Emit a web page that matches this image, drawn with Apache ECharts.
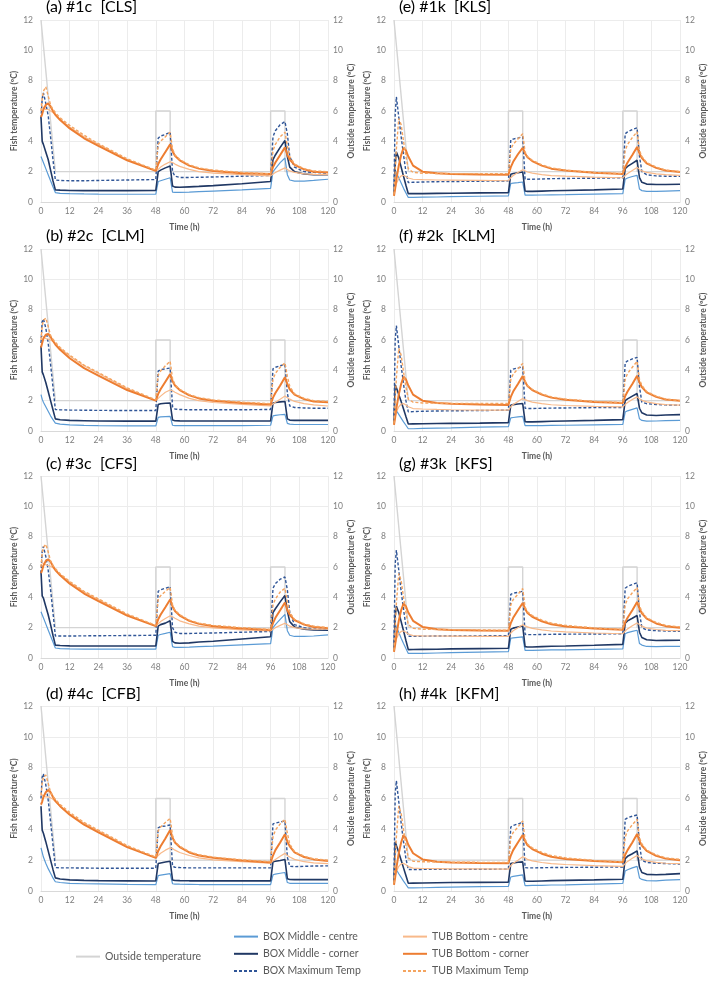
<!DOCTYPE html>
<html><head><meta charset="utf-8">
<script src="https://cdn.jsdelivr.net/npm/echarts@6/dist/echarts.min.js"></script>
<style>html,body{margin:0;padding:0;background:#fff}#c{width:709px;height:989px}</style>
</head><body><div id="c"></div>
<script>
// ---------- DATA ----------
const hours = [0, 0.5, 1, 2, 3, 4, 5, 6, 8, 12, 18, 24, 36, 48, 49, 50, 52, 54, 55, 56, 58, 62, 66, 72, 84, 96, 97, 98, 100, 102, 103, 104, 106, 110, 114, 120];
const outsideHours = [0, 6, 48, 48, 54, 54, 96, 96, 102, 102, 120];
const outsideTemp = [12, 2, 2, 6, 6, 2, 2, 6, 6, 2, 2];
const xTicks = [0, 12, 24, 36, 48, 60, 72, 84, 96, 108, 120];
const yTicks = [0, 2, 4, 6, 8, 10, 12];
const panelTitles = ['(a) #1c  [CLS]', '(b) #2c  [CLM]', '(c) #3c  [CFS]', '(d) #4c  [CFB]',
                     '(e) #1k  [KLS]', '(f) #2k  [KLM]', '(g) #3k  [KFS]', '(h) #4k  [KFM]'];
const seriesNames = ['Outside temperature', 'BOX Middle - centre', 'BOX Middle - corner', 'BOX Maximum Temp',
                     'TUB Bottom - centre', 'TUB Bottom - corner', 'TUB Maximum Temp'];

// (a) #1c
const a_boxCentre = [3.0, 2.8, 2.6, 2.2, 1.8, 1.4, 1.0, 0.62, 0.57, 0.55, 0.53, 0.52, 0.51, 0.52, 1.35, 1.4, 1.5, 1.6, 0.65, 0.63, 0.63, 0.65, 0.68, 0.72, 0.8, 0.9, 2.0, 2.2, 2.6, 2.9, 1.8, 1.45, 1.38, 1.38, 1.42, 1.5];
const a_boxCorner = [5.6, 4.0, 3.8, 3.3, 2.8, 2.1, 1.4, 0.8, 0.78, 0.76, 0.75, 0.75, 0.75, 0.76, 2.0, 2.1, 2.25, 2.38, 1.05, 0.98, 0.97, 1.0, 1.03, 1.08, 1.2, 1.35, 2.8, 3.1, 3.6, 4.05, 3.0, 2.3, 2.0, 1.85, 1.8, 1.8];
const a_boxMax = [5.5, 6.8, 7.2, 6.5, 5.7, 4.3, 2.8, 1.45, 1.42, 1.4, 1.4, 1.42, 1.45, 1.48, 4.2, 4.35, 4.45, 4.6, 2.0, 1.7, 1.62, 1.62, 1.63, 1.65, 1.7, 1.75, 4.3, 4.7, 5.1, 5.3, 4.5, 3.0, 2.3, 2.0, 1.95, 1.9];
const a_tubCentre = [6.5, 6.3, 6.2, 6.1, 6.1, 6.0, 5.9, 5.75, 5.45, 4.95, 4.3, 3.8, 2.8, 2.05, 2.15, 2.3, 2.5, 2.65, 2.6, 2.5, 2.35, 2.15, 2.0, 1.9, 1.8, 1.72, 1.85, 1.95, 2.1, 2.25, 2.15, 2.05, 1.95, 1.85, 1.82, 1.8];
const a_tubCorner = [5.6, 5.8, 6.1, 6.4, 6.5, 6.3, 6.0, 5.75, 5.4, 4.85, 4.2, 3.7, 2.75, 2.05, 2.5, 2.8, 3.3, 3.8, 3.35, 3.05, 2.75, 2.4, 2.2, 2.05, 1.9, 1.85, 2.3, 2.6, 3.1, 3.6, 3.1, 2.8, 2.45, 2.15, 2.0, 1.95];
const a_tubMax = [6.0, 6.8, 7.3, 7.6, 7.0, 6.4, 6.1, 5.9, 5.55, 5.05, 4.4, 3.85, 2.85, 2.1, 3.8, 4.0, 4.3, 4.6, 3.5, 3.1, 2.8, 2.45, 2.25, 2.1, 1.95, 1.85, 3.4, 3.8, 4.3, 4.6, 3.7, 3.0, 2.5, 2.2, 2.05, 2.0];
// (b) #2c
const b_boxCentre = [2.4, 2.1, 1.9, 1.6, 1.3, 1.0, 0.75, 0.52, 0.45, 0.4, 0.37, 0.35, 0.34, 0.34, 0.9, 0.93, 0.95, 0.97, 0.38, 0.36, 0.35, 0.35, 0.35, 0.35, 0.36, 0.38, 1.0, 1.03, 1.07, 1.1, 0.5, 0.45, 0.43, 0.43, 0.43, 0.43];
const b_boxCorner = [5.6, 3.9, 3.7, 3.2, 2.6, 2.0, 1.4, 0.8, 0.74, 0.7, 0.68, 0.66, 0.65, 0.65, 1.75, 1.8, 1.83, 1.85, 0.72, 0.68, 0.67, 0.66, 0.66, 0.66, 0.66, 0.67, 1.85, 1.88, 1.92, 1.95, 0.8, 0.72, 0.7, 0.7, 0.7, 0.7];
const b_boxMax = [5.8, 7.2, 7.4, 6.8, 5.8, 4.4, 2.9, 1.42, 1.4, 1.38, 1.37, 1.36, 1.35, 1.35, 3.95, 4.05, 4.1, 4.15, 1.6, 1.45, 1.42, 1.4, 1.4, 1.4, 1.4, 1.42, 4.1, 4.2, 4.3, 4.4, 2.5, 1.65, 1.55, 1.52, 1.5, 1.5];
const b_tubCentre = [6.4, 6.25, 6.15, 6.1, 6.05, 6.0, 5.9, 5.75, 5.45, 4.95, 4.3, 3.8, 2.8, 2.0, 2.15, 2.3, 2.55, 2.7, 2.65, 2.55, 2.4, 2.15, 2.0, 1.88, 1.75, 1.65, 1.8, 1.9, 2.1, 2.3, 2.2, 2.1, 1.95, 1.8, 1.72, 1.65];
const b_tubCorner = [5.5, 5.8, 6.1, 6.35, 6.4, 6.2, 5.95, 5.7, 5.35, 4.8, 4.15, 3.65, 2.7, 2.0, 2.45, 2.75, 3.25, 3.75, 3.3, 3.0, 2.7, 2.35, 2.15, 2.0, 1.85, 1.75, 2.2, 2.5, 3.0, 3.55, 3.1, 2.75, 2.4, 2.1, 1.95, 1.9];
const b_tubMax = [6.0, 6.9, 7.3, 7.45, 6.9, 6.3, 6.05, 5.85, 5.5, 5.0, 4.35, 3.85, 2.85, 2.05, 3.7, 3.95, 4.3, 4.6, 3.45, 3.05, 2.75, 2.4, 2.2, 2.05, 1.9, 1.8, 3.4, 3.8, 4.2, 4.5, 3.6, 2.95, 2.45, 2.15, 2.0, 1.95];
// (c) #3c
const c_boxCentre = [3.05, 2.85, 2.65, 2.25, 1.85, 1.45, 1.05, 0.66, 0.62, 0.6, 0.59, 0.58, 0.58, 0.58, 1.5, 1.55, 1.62, 1.7, 0.75, 0.7, 0.7, 0.72, 0.75, 0.78, 0.86, 0.95, 2.0, 2.2, 2.55, 2.88, 1.8, 1.5, 1.42, 1.42, 1.45, 1.52];
const c_boxCorner = [5.7, 4.1, 3.95, 3.4, 2.85, 2.2, 1.5, 0.85, 0.82, 0.8, 0.79, 0.79, 0.79, 0.8, 2.1, 2.2, 2.3, 2.45, 1.1, 1.0, 0.97, 1.0, 1.05, 1.1, 1.25, 1.4, 3.0, 3.25, 3.7, 4.12, 3.1, 2.4, 2.05, 1.9, 1.85, 1.83];
const c_boxMax = [5.6, 7.0, 7.35, 6.7, 5.8, 4.5, 3.0, 1.45, 1.45, 1.45, 1.46, 1.47, 1.48, 1.5, 4.4, 4.5, 4.6, 4.7, 2.0, 1.7, 1.62, 1.62, 1.63, 1.65, 1.7, 1.75, 4.6, 4.9, 5.2, 5.34, 4.5, 3.0, 2.2, 2.0, 1.92, 1.87];
const c_tubCentre = [6.4, 6.3, 6.2, 6.15, 6.1, 6.05, 5.95, 5.8, 5.5, 5.0, 4.35, 3.85, 2.85, 2.1, 2.25, 2.4, 2.6, 2.78, 2.72, 2.62, 2.45, 2.25, 2.1, 1.98, 1.85, 1.78, 1.9, 2.0, 2.15, 2.29, 2.2, 2.1, 2.0, 1.92, 1.9, 1.9];
const c_tubCorner = [5.6, 5.8, 6.1, 6.4, 6.5, 6.35, 6.05, 5.8, 5.45, 4.9, 4.25, 3.75, 2.8, 2.1, 2.55, 2.85, 3.35, 3.86, 3.4, 3.1, 2.8, 2.45, 2.25, 2.1, 1.95, 1.85, 2.3, 2.65, 3.15, 3.66, 3.15, 2.85, 2.5, 2.2, 2.05, 1.97];
const c_tubMax = [6.0, 6.9, 7.3, 7.5, 7.0, 6.4, 6.1, 5.9, 5.55, 5.05, 4.4, 3.9, 2.9, 2.15, 3.9, 4.1, 4.4, 4.65, 3.5, 3.15, 2.85, 2.5, 2.3, 2.15, 2.0, 1.88, 3.5, 3.9, 4.35, 4.6, 3.7, 3.0, 2.55, 2.25, 2.1, 2.0];
// (d) #4c
const d_boxCentre = [2.8, 2.5, 2.2, 1.8, 1.45, 1.15, 0.85, 0.6, 0.55, 0.5, 0.47, 0.46, 0.43, 0.41, 1.0, 1.03, 1.08, 1.13, 0.47, 0.45, 0.44, 0.43, 0.42, 0.42, 0.41, 0.41, 1.05, 1.1, 1.15, 1.2, 0.55, 0.5, 0.5, 0.5, 0.5, 0.5];
const d_boxCorner = [5.5, 3.95, 3.75, 3.2, 2.6, 2.0, 1.4, 0.85, 0.78, 0.72, 0.69, 0.67, 0.66, 0.65, 1.78, 1.82, 1.88, 1.93, 0.72, 0.68, 0.67, 0.66, 0.66, 0.66, 0.66, 0.66, 1.9, 1.93, 1.98, 2.04, 0.8, 0.75, 0.74, 0.74, 0.74, 0.74];
const d_boxMax = [6.0, 7.4, 7.6, 6.9, 5.9, 4.5, 3.0, 1.52, 1.5, 1.5, 1.49, 1.48, 1.48, 1.48, 4.1, 4.18, 4.22, 4.28, 1.6, 1.54, 1.52, 1.5, 1.5, 1.5, 1.5, 1.5, 4.35, 4.4, 4.48, 4.54, 2.2, 1.6, 1.58, 1.6, 1.62, 1.63];
const d_tubCentre = [6.3, 6.2, 6.15, 6.1, 6.1, 6.05, 5.95, 5.8, 5.5, 5.0, 4.4, 3.9, 2.9, 2.15, 2.3, 2.45, 2.65, 2.8, 2.75, 2.65, 2.5, 2.3, 2.15, 2.02, 1.9, 1.8, 1.95, 2.05, 2.25, 2.44, 2.3, 2.2, 2.05, 1.9, 1.82, 1.78];
const d_tubCorner = [5.6, 5.8, 6.1, 6.4, 6.55, 6.4, 6.1, 5.85, 5.5, 4.95, 4.3, 3.8, 2.85, 2.15, 2.6, 2.9, 3.4, 3.95, 3.45, 3.15, 2.85, 2.5, 2.3, 2.15, 1.98, 1.85, 2.3, 2.65, 3.15, 3.68, 3.2, 2.9, 2.5, 2.2, 2.05, 1.95];
const d_tubMax = [6.2, 7.0, 7.4, 7.52, 7.0, 6.4, 6.15, 5.95, 5.6, 5.1, 4.45, 3.95, 2.95, 2.2, 3.9, 4.15, 4.45, 4.71, 3.6, 3.2, 2.9, 2.55, 2.35, 2.2, 2.02, 1.9, 3.5, 3.95, 4.35, 4.65, 3.75, 3.05, 2.55, 2.25, 2.08, 2.0];
// (e) #1k
const e_boxCentre = [1.6, 2.1, 1.9, 1.6, 1.25, 0.9, 0.6, 0.3, 0.3, 0.32, 0.33, 0.35, 0.38, 0.4, 1.22, 1.25, 1.28, 1.32, 0.45, 0.45, 0.45, 0.46, 0.47, 0.48, 0.52, 0.55, 1.5, 1.58, 1.68, 1.76, 0.85, 0.75, 0.7, 0.7, 0.72, 0.75];
const e_boxCorner = [0.5, 2.5, 3.3, 2.9, 2.3, 1.7, 1.1, 0.55, 0.55, 0.55, 0.57, 0.58, 0.6, 0.62, 1.83, 1.88, 1.93, 1.98, 0.72, 0.7, 0.7, 0.72, 0.74, 0.76, 0.8, 0.86, 2.2, 2.35, 2.55, 2.75, 1.6, 1.3, 1.18, 1.15, 1.15, 1.17];
const e_boxMax = [1.0, 5.8, 6.94, 5.6, 4.3, 3.1, 2.0, 1.28, 1.3, 1.32, 1.34, 1.35, 1.37, 1.39, 4.1, 4.15, 4.22, 4.3, 1.5, 1.5, 1.5, 1.52, 1.54, 1.55, 1.57, 1.6, 4.5, 4.62, 4.78, 4.89, 3.0, 2.0, 1.8, 1.72, 1.7, 1.7];
const e_tubCentre = [0.5, 0.9, 1.2, 1.55, 1.72, 1.76, 1.68, 1.58, 1.5, 1.47, 1.45, 1.44, 1.42, 1.4, 1.6, 1.75, 1.95, 2.13, 2.05, 1.98, 1.9, 1.8, 1.74, 1.7, 1.64, 1.6, 1.75, 1.88, 2.08, 2.27, 2.15, 2.05, 1.95, 1.85, 1.8, 1.75];
const e_tubCorner = [0.4, 0.9, 1.5, 2.4, 3.1, 3.57, 3.4, 3.0, 2.4, 2.0, 1.9, 1.85, 1.82, 1.8, 2.3, 2.65, 3.15, 3.57, 3.2, 2.95, 2.7, 2.4, 2.2, 2.08, 1.93, 1.85, 2.3, 2.6, 3.1, 3.63, 3.2, 2.9, 2.55, 2.25, 2.08, 1.98];
const e_tubMax = [0.5, 2.0, 3.5, 5.5, 5.1, 4.0, 3.0, 2.2, 1.95, 1.9, 1.88, 1.87, 1.87, 1.87, 3.5, 3.8, 4.15, 4.5, 3.3, 3.0, 2.75, 2.45, 2.25, 2.1, 1.95, 1.87, 3.4, 3.8, 4.25, 4.63, 3.4, 3.0, 2.6, 2.3, 2.1, 2.0];
// (f) #2k
const f_boxCentre = [1.1, 1.5, 1.35, 1.1, 0.85, 0.6, 0.38, 0.15, 0.15, 0.17, 0.19, 0.2, 0.25, 0.29, 0.86, 0.89, 0.93, 0.97, 0.35, 0.35, 0.35, 0.36, 0.37, 0.38, 0.41, 0.44, 1.25, 1.33, 1.43, 1.52, 0.8, 0.7, 0.65, 0.66, 0.68, 0.7];
const f_boxCorner = [0.5, 3.05, 2.85, 2.4, 1.95, 1.45, 0.95, 0.46, 0.47, 0.48, 0.49, 0.5, 0.52, 0.55, 1.7, 1.74, 1.78, 1.81, 0.62, 0.6, 0.6, 0.62, 0.64, 0.66, 0.7, 0.75, 2.0, 2.12, 2.3, 2.47, 1.5, 1.2, 1.05, 1.02, 1.05, 1.08];
const f_boxMax = [1.0, 6.0, 6.95, 5.6, 4.3, 3.1, 2.0, 1.26, 1.28, 1.3, 1.32, 1.33, 1.35, 1.37, 4.0, 4.08, 4.16, 4.24, 1.5, 1.48, 1.48, 1.5, 1.51, 1.52, 1.54, 1.55, 4.5, 4.62, 4.75, 4.86, 2.9, 1.9, 1.8, 1.75, 1.72, 1.7];
const f_tubCentre = [0.5, 0.95, 1.25, 1.6, 1.78, 1.81, 1.72, 1.6, 1.48, 1.45, 1.42, 1.4, 1.38, 1.37, 1.6, 1.75, 1.95, 2.14, 2.07, 2.0, 1.9, 1.8, 1.73, 1.68, 1.62, 1.59, 1.75, 1.88, 2.08, 2.25, 2.12, 2.02, 1.92, 1.8, 1.74, 1.7];
const f_tubCorner = [0.4, 0.9, 1.5, 2.4, 3.1, 3.58, 3.4, 3.0, 2.4, 2.0, 1.85, 1.8, 1.75, 1.72, 2.25, 2.6, 3.1, 3.62, 3.25, 2.97, 2.7, 2.4, 2.2, 2.06, 1.92, 1.85, 2.3, 2.6, 3.1, 3.64, 3.2, 2.9, 2.55, 2.25, 2.08, 1.99];
const f_tubMax = [0.5, 2.0, 3.5, 5.45, 5.0, 3.9, 2.9, 2.1, 1.9, 1.85, 1.83, 1.82, 1.81, 1.81, 3.4, 3.75, 4.1, 4.46, 3.3, 3.0, 2.75, 2.45, 2.25, 2.1, 1.95, 1.87, 3.4, 3.8, 4.2, 4.6, 3.4, 3.0, 2.6, 2.3, 2.1, 2.0];
// (g) #3k
const g_boxCentre = [1.6, 2.27, 2.05, 1.7, 1.3, 0.95, 0.62, 0.3, 0.3, 0.31, 0.33, 0.35, 0.39, 0.42, 1.3, 1.33, 1.36, 1.39, 0.5, 0.5, 0.5, 0.52, 0.53, 0.54, 0.57, 0.6, 1.6, 1.67, 1.76, 1.83, 0.95, 0.85, 0.76, 0.75, 0.76, 0.77];
const g_boxCorner = [0.5, 2.8, 3.41, 3.0, 2.4, 1.8, 1.15, 0.55, 0.56, 0.57, 0.58, 0.6, 0.62, 0.64, 1.9, 1.97, 2.04, 2.11, 0.75, 0.73, 0.73, 0.75, 0.77, 0.79, 0.84, 0.9, 2.3, 2.45, 2.62, 2.8, 1.7, 1.35, 1.2, 1.15, 1.16, 1.17];
const g_boxMax = [1.0, 6.2, 7.11, 5.8, 4.4, 3.2, 2.1, 1.43, 1.43, 1.44, 1.45, 1.45, 1.46, 1.47, 4.2, 4.27, 4.33, 4.4, 1.56, 1.54, 1.54, 1.55, 1.56, 1.57, 1.58, 1.6, 4.6, 4.72, 4.85, 4.96, 3.0, 2.0, 1.85, 1.8, 1.78, 1.76];
const g_tubCentre = [0.5, 0.95, 1.25, 1.6, 1.75, 1.78, 1.7, 1.58, 1.48, 1.46, 1.45, 1.44, 1.43, 1.43, 1.65, 1.8, 2.0, 2.2, 2.12, 2.05, 1.95, 1.85, 1.78, 1.72, 1.65, 1.6, 1.78, 1.92, 2.12, 2.31, 2.2, 2.1, 1.98, 1.88, 1.82, 1.8];
const g_tubCorner = [0.4, 0.9, 1.5, 2.45, 3.15, 3.59, 3.4, 3.0, 2.45, 2.05, 1.9, 1.85, 1.82, 1.8, 2.3, 2.65, 3.15, 3.63, 3.25, 2.97, 2.72, 2.42, 2.22, 2.08, 1.94, 1.86, 2.35, 2.65, 3.15, 3.7, 3.25, 2.95, 2.6, 2.28, 2.1, 2.0];
const g_tubMax = [0.5, 2.0, 3.6, 5.57, 5.1, 4.0, 3.0, 2.2, 1.95, 1.9, 1.88, 1.86, 1.85, 1.83, 3.5, 3.85, 4.2, 4.58, 3.35, 3.05, 2.8, 2.5, 2.3, 2.15, 1.98, 1.88, 3.5, 3.9, 4.3, 4.65, 3.45, 3.05, 2.65, 2.35, 2.15, 2.05];
// (h) #4k
const h_boxCentre = [1.1, 1.52, 1.38, 1.12, 0.88, 0.64, 0.42, 0.2, 0.2, 0.21, 0.23, 0.25, 0.28, 0.3, 0.91, 0.95, 1.0, 1.04, 0.35, 0.35, 0.36, 0.37, 0.39, 0.4, 0.45, 0.5, 1.3, 1.38, 1.5, 1.6, 0.85, 0.75, 0.67, 0.66, 0.7, 0.74];
const h_boxCorner = [0.5, 3.2, 2.95, 2.5, 2.0, 1.5, 1.0, 0.5, 0.51, 0.52, 0.54, 0.55, 0.56, 0.57, 1.78, 1.82, 1.86, 1.89, 0.65, 0.63, 0.63, 0.65, 0.67, 0.69, 0.72, 0.76, 2.1, 2.25, 2.42, 2.6, 1.55, 1.2, 1.08, 1.05, 1.08, 1.13];
const h_boxMax = [1.0, 6.3, 7.15, 5.8, 4.4, 3.2, 2.1, 1.39, 1.39, 1.4, 1.4, 1.4, 1.41, 1.42, 4.15, 4.25, 4.35, 4.45, 1.52, 1.5, 1.5, 1.51, 1.52, 1.53, 1.54, 1.56, 4.65, 4.75, 4.85, 4.93, 3.0, 2.0, 1.85, 1.8, 1.78, 1.75];
const h_tubCentre = [0.5, 0.95, 1.25, 1.6, 1.76, 1.8, 1.7, 1.58, 1.48, 1.46, 1.45, 1.44, 1.43, 1.42, 1.65, 1.8, 2.0, 2.22, 2.15, 2.05, 1.95, 1.85, 1.78, 1.72, 1.65, 1.6, 1.78, 1.92, 2.12, 2.3, 2.18, 2.08, 1.96, 1.86, 1.8, 1.78];
const h_tubCorner = [0.4, 0.9, 1.5, 2.45, 3.15, 3.63, 3.42, 3.0, 2.45, 2.05, 1.9, 1.85, 1.82, 1.8, 2.3, 2.65, 3.15, 3.63, 3.25, 2.97, 2.72, 2.42, 2.22, 2.08, 1.94, 1.86, 2.35, 2.65, 3.15, 3.7, 3.25, 2.95, 2.6, 2.28, 2.1, 2.0];
const h_tubMax = [0.5, 2.0, 3.5, 5.51, 5.05, 3.95, 2.95, 2.15, 1.93, 1.9, 1.88, 1.87, 1.86, 1.85, 3.45, 3.8, 4.15, 4.54, 3.35, 3.05, 2.8, 2.5, 2.3, 2.15, 1.98, 1.88, 3.5, 3.9, 4.3, 4.65, 3.45, 3.05, 2.65, 2.35, 2.15, 2.05];

const panelSeries = [
  [a_boxCentre, a_boxCorner, a_boxMax, a_tubCentre, a_tubCorner, a_tubMax],
  [b_boxCentre, b_boxCorner, b_boxMax, b_tubCentre, b_tubCorner, b_tubMax],
  [c_boxCentre, c_boxCorner, c_boxMax, c_tubCentre, c_tubCorner, c_tubMax],
  [d_boxCentre, d_boxCorner, d_boxMax, d_tubCentre, d_tubCorner, d_tubMax],
  [e_boxCentre, e_boxCorner, e_boxMax, e_tubCentre, e_tubCorner, e_tubMax],
  [f_boxCentre, f_boxCorner, f_boxMax, f_tubCentre, f_tubCorner, f_tubMax],
  [g_boxCentre, g_boxCorner, g_boxMax, g_tubCentre, g_tubCorner, g_tubMax],
  [h_boxCentre, h_boxCorner, h_boxMax, h_tubCentre, h_tubCorner, h_tubMax]
];

// ---------- LAYOUT / STYLE ----------
const FONT = 'Lato, "Open Sans", sans-serif';
const rowTop = [20, 249, 476, 706];
const rowH = [182, 182, 182, 185];
const colLeft = [41, 394];
const colW = [287, 286];
const titleTop = [-1, 228, 456, 686];
const lineStyles = [
  { color: '#d4d4d4', width: 1.4, type: 'solid' },
  { color: '#5b9bd5', width: 1.2, type: 'solid' },
  { color: '#203864', width: 1.6, type: 'solid' },
  { color: '#2f5597', width: 1.4, type: [3, 2] },
  { color: '#f8b98a', width: 1.2, type: 'solid' },
  { color: '#ed7d31', width: 2, type: 'solid' },
  { color: '#f4a460', width: 1.4, type: [3, 2] }
];

const grids = [], xAxes = [], yAxes = [], series = [], titles = [];
for (let p = 0; p < 8; p++) {
  const col = p < 4 ? 0 : 1, row = p % 4;
  grids.push({ left: colLeft[col], top: rowTop[row], width: colW[col], height: rowH[row], containLabel: false });
  titles.push({ text: panelTitles[p], left: colLeft[col] + 5, top: titleTop[row], padding: 0,
    textStyle: { fontFamily: FONT, fontSize: 16, fontWeight: 'normal', color: '#000' } });
  xAxes.push({ type: 'value', gridIndex: p, min: xTicks[0], max: xTicks[xTicks.length - 1], interval: 12,
    name: 'Time (h)', nameLocation: 'middle', nameGap: 21,
    nameTextStyle: { fontFamily: FONT, fontSize: 8.5, fontWeight: 'bold', color: '#595959' },
    axisLine: { show: true, lineStyle: { color: '#d9d9d9', width: 1 } }, axisTick: { show: false },
    axisLabel: { fontFamily: FONT, fontSize: 8.5, color: '#7f7f7f', margin: 5 },
    splitLine: { show: true, lineStyle: { color: '#ececec', width: 1 } } });
  yAxes.push({ type: 'value', gridIndex: p, position: 'left', min: yTicks[0], max: yTicks[yTicks.length - 1], interval: 2,
    name: 'Fish temperature (ºC)', nameLocation: 'middle', nameGap: 21,
    nameTextStyle: { fontFamily: FONT, fontSize: 8.5, fontWeight: 'bold', color: '#595959' },
    axisLine: { show: false }, axisTick: { show: false },
    axisLabel: { fontFamily: FONT, fontSize: 8.5, color: '#7f7f7f', margin: 8 },
    splitLine: { show: true, lineStyle: { color: '#ececec', width: 1 } } });
  yAxes.push({ type: 'value', gridIndex: p, position: 'right', min: yTicks[0], max: yTicks[yTicks.length - 1], interval: 2,
    name: 'Outside temperature (ºC)', nameLocation: 'middle', nameGap: 18,
    nameTextStyle: { fontFamily: FONT, fontSize: 8.5, fontWeight: 'bold', color: '#595959' },
    axisLine: { show: false }, axisTick: { show: false },
    axisLabel: { fontFamily: FONT, fontSize: 8.5, color: '#7f7f7f', margin: 5 },
    splitLine: { show: false } });
  series.push({ name: seriesNames[0], type: 'line', xAxisIndex: p, yAxisIndex: 2 * p + 1,
    data: outsideHours.map((t, i) => [t, outsideTemp[i]]),
    symbol: 'none', lineStyle: lineStyles[0], itemStyle: { color: lineStyles[0].color },
    z: 1, animation: false, silent: true });
  for (let s = 0; s < 6; s++) {
    const vals = panelSeries[p][s];
    series.push({ name: seriesNames[s + 1], type: 'line', xAxisIndex: p, yAxisIndex: 2 * p,
      data: hours.map((t, i) => [t, vals[i]]),
      symbol: 'none', lineStyle: lineStyles[s + 1], itemStyle: { color: lineStyles[s + 1].color },
      z: 2 + s, animation: false, silent: true });
  }
}

const legendCommon = { itemWidth: 24, itemHeight: 14, selectedMode: false, padding: 0,
  itemStyle: { opacity: 0 },
  textStyle: { fontFamily: FONT, fontSize: 10.5, color: '#595959' } };
const legends = [
  Object.assign({}, legendCommon, { data: [seriesNames[0]], left: 75, top: 951 }),
  Object.assign({}, legendCommon, { data: seriesNames.slice(1, 4), orient: 'vertical', left: 233, top: 931, itemGap: 6 }),
  Object.assign({}, legendCommon, { data: seriesNames.slice(4, 7), orient: 'vertical', left: 402, top: 931, itemGap: 6 })
];

const chart = echarts.init(document.getElementById('c'), null, { renderer: 'canvas' });
chart.setOption({
  animation: false,
  backgroundColor: '#ffffff',
  title: titles,
  grid: grids,
  xAxis: xAxes,
  yAxis: yAxes,
  legend: legends,
  series: series
});
</script>
</body></html>
